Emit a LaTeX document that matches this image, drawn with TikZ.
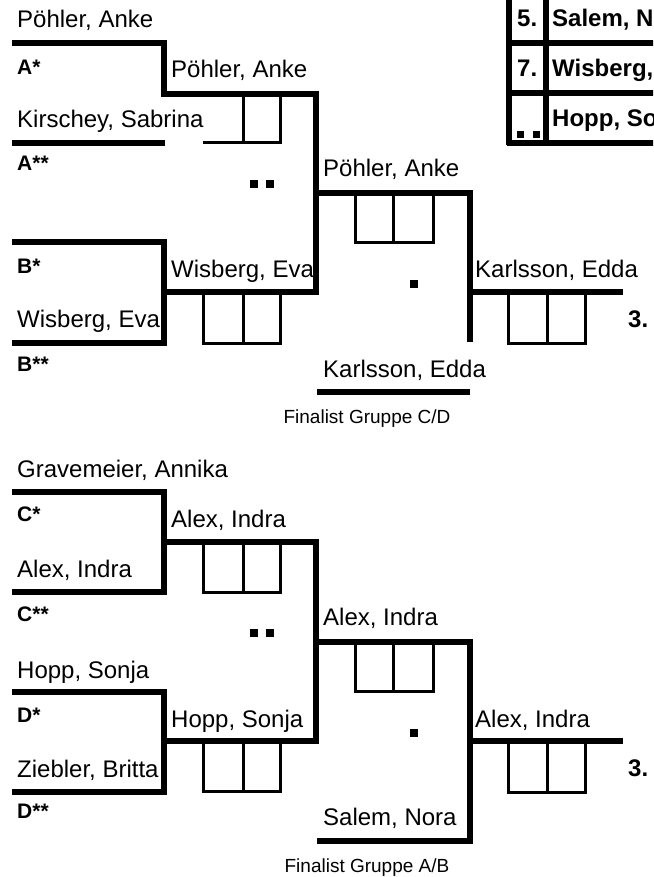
\documentclass[tikz,border=0pt]{standalone}
\usepackage{fontspec}
\setmainfont{Liberation Sans}
\begin{document}
\begin{tikzpicture}[x=1pt,y=-1pt,
  nm/.style={anchor=base west,inner sep=0pt,font=\fontsize{24}{25}\selectfont},
  lab/.style={anchor=base west,inner sep=0pt,font=\bfseries\fontsize{21}{22}\selectfont},
  big/.style={anchor=base west,inner sep=0pt,font=\bfseries\fontsize{24}{25}\selectfont},
  fin/.style={anchor=base,inner sep=0pt,font=\fontsize{19}{20}\selectfont},
  thk/.style={line width=5.5pt},
  thn/.style={line width=3pt},
  sq/.style={fill=black}]
\clip (0,0) rectangle (653,877);
\fill[white] (0,0) rectangle (653,877);
% ---------- top half ----------
\draw[thk] (12,43) -- (164,43) -- (164,94) -- (316,94) -- (316,292) -- (164,292);
\draw[thk] (12,143) -- (165,143);
\draw[thk] (12,242) -- (164,242) -- (164,343) -- (12,343);
\draw[thk] (316,193) -- (470,193) -- (470,342);
\draw[thk] (470,292) -- (623,292);
\draw[thk] (317,392) -- (470,392);
\draw[thn] (203,143) -- (280,143) -- (280,94);
\draw[thn] (243,94) -- (243,143);
\draw[thn] (203,292) rectangle (280,343);
\draw[thn] (243,292) -- (243,343);
\draw[thn] (355,193) rectangle (433,242);
\draw[thn] (393,193) -- (393,242);
\draw[thn] (508,292) rectangle (585,343);
\draw[thn] (547,292) -- (547,343);
\fill[sq] (250,180) rectangle (258,188);
\fill[sq] (266,180) rectangle (274,188);
\fill[sq] (410,280) rectangle (418,288);
% ---------- table ----------
\draw[thk] (509,-5) -- (509,145);
\draw[thk] (546,-5) -- (546,143);
\draw[thk] (507,43) -- (660,43);
\draw[thk] (507,93) -- (660,93);
\draw[thk] (507,143) -- (660,143);
\fill[sq] (517,131) rectangle (524,138);
\fill[sq] (533,131) rectangle (540,138);
\node[big] (t5) at (517,27) {5.};
\node[big] (t5n) at (552,27) {Salem, N};
\node[big] (t7) at (517,77) {7.};
\node[big] (t7n) at (552,77) {Wisberg,};
\node[big] (t9n) at (552,127) {Hopp, So};
% top texts
\node[nm] (a1) at (17,28) {Pöhler, Anke};
\node[lab] (as) at (17,75) {A*};
\node[nm] (a2) at (171,78) {Pöhler, Anke};
\node[nm] (a3) at (17,128) {Kirschey, Sabrina};
\node[lab] (ass) at (17,171) {A**};
\node[nm] (ab) at (323,177) {Pöhler, Anke};
\node[lab] (bs) at (17,273) {B*};
\node[nm] (b2) at (171,277) {Wisberg, Eva};
\node[nm] (b1) at (17,327) {Wisberg, Eva};
\node[lab] (bss) at (17,371) {B**};
\node[nm] (kr) at (475,277) {Karlsson, Edda};
\node[big] (p3a) at (628,327) {3.};
\node[nm] (kb) at (323,377) {Karlsson, Edda};
\node[fin] (f1) at (367,423) {Finalist Gruppe C/D};
% ---------- bottom half ----------
\draw[thk] (12,492) -- (164,492) -- (164,592) -- (12,592);
\draw[thk] (12,692) -- (164,692) -- (164,792) -- (12,792);
\draw[thk] (164,542) -- (316,542) -- (316,741) -- (164,741);
\draw[thk] (316,642) -- (470,642) -- (470,841) -- (317,841);
\draw[thk] (470,741) -- (623,741);
\draw[thn] (203,542) rectangle (280,592);
\draw[thn] (243,542) -- (243,592);
\draw[thn] (203,741) rectangle (280,791);
\draw[thn] (243,741) -- (243,791);
\draw[thn] (355,642) rectangle (433,691);
\draw[thn] (393,642) -- (393,691);
\draw[thn] (508,741) rectangle (585,792);
\draw[thn] (547,741) -- (547,792);
\fill[sq] (250,629) rectangle (258,637);
\fill[sq] (266,629) rectangle (274,637);
\fill[sq] (410,729) rectangle (418,737);
\node[nm] (c1) at (17,477) {Gravemeier, Annika};
\node[lab] (cs) at (17,521) {C*};
\node[nm] (c2) at (171,527) {Alex, Indra};
\node[nm] (c3) at (17,577) {Alex, Indra};
\node[lab] (css) at (17,621) {C**};
\node[nm] (cd) at (323,625) {Alex, Indra};
\node[nm] (d1) at (17,678) {Hopp, Sonja};
\node[lab] (ds) at (17,722) {D*};
\node[nm] (d2) at (171,727) {Hopp, Sonja};
\node[nm] (d3) at (17,777) {Ziebler, Britta};
\node[lab] (dss) at (17,818) {D**};
\node[nm] (ar) at (475,727) {Alex, Indra};
\node[big] (p3b) at (628,776) {3.};
\node[nm] (sn) at (323,825) {Salem, Nora};
\node[fin] (f2) at (367,872) {Finalist Gruppe A/B};
\end{tikzpicture}
\end{document}
